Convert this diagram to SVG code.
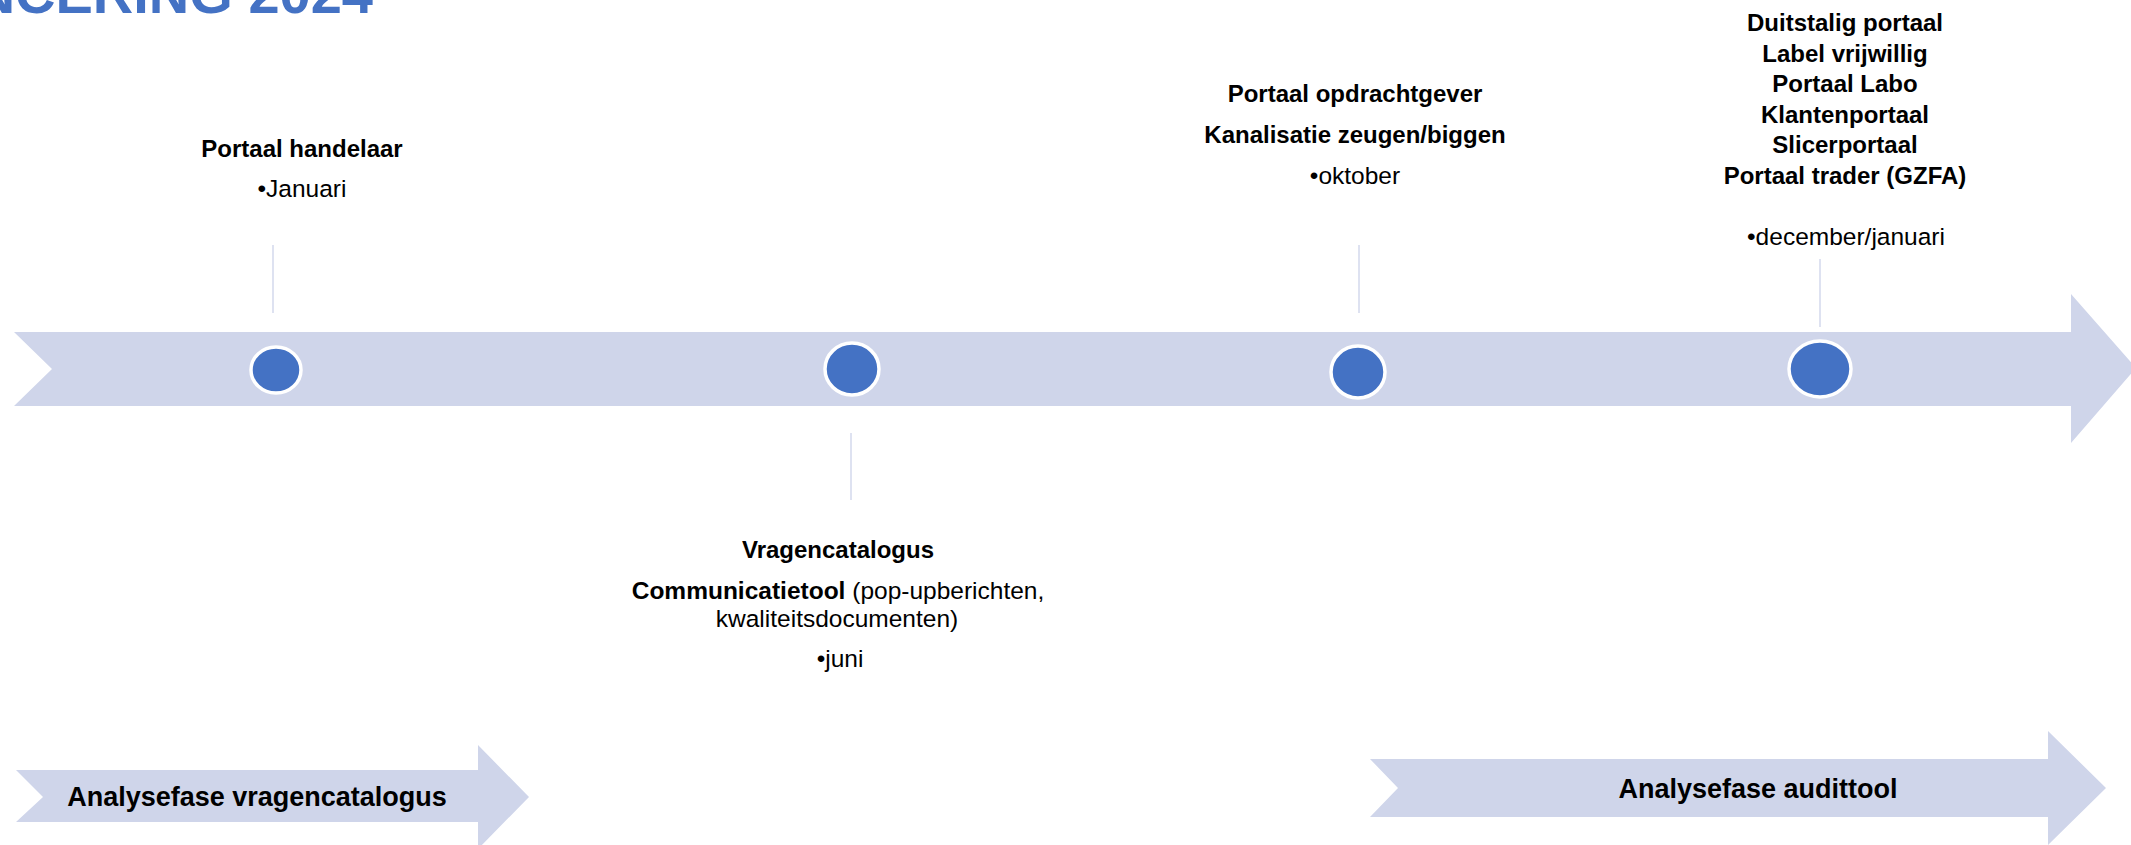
<svg xmlns="http://www.w3.org/2000/svg" width="2131" height="845" viewBox="0 0 2131 845">
<style>
  .arrow { fill: #CFD5EA; }
  .dot { fill: #4472C4; stroke: #FFFFFF; stroke-width: 3.5; }
  .conn { stroke: #D3D9EC; stroke-width: 1.5; fill: none; }
  .t { font-family: "Liberation Sans", Arial, sans-serif; fill: #000000; text-anchor: middle; }
  .b { font-weight: bold; font-size: 24px; }
  .r { font-weight: normal; font-size: 24.5px; }
  .ph { font-weight: bold; font-size: 27px; }
  .title { font-family: "Liberation Sans", Arial, sans-serif; font-weight: bold; font-size: 56px; fill: #4472C4; text-anchor: end; }
</style>
<rect x="0" y="0" width="2131" height="845" fill="#FFFFFF"/>

<g id="title">
  <text class="title" x="373" y="13">NCERING 2024</text>
</g>

<g id="timeline">
  <polygon class="arrow" points="14,332 2071,332 2071,294 2136,368 2071,443 2071,406 14,406 52,369"/>
</g>

<g id="connectors">
  <line class="conn" x1="273" y1="245" x2="273" y2="313"/>
  <line class="conn" x1="851" y1="433" x2="851" y2="500"/>
  <line class="conn" x1="1359" y1="245" x2="1359" y2="313"/>
  <line class="conn" x1="1820" y1="259" x2="1820" y2="327"/>
</g>

<g id="milestone-januari">
  <ellipse class="dot" cx="276" cy="370" rx="25" ry="23"/>
  <text class="t b" x="302" y="157">Portaal handelaar</text>
  <text class="t r" x="302" y="197">•Januari</text>
</g>

<g id="milestone-juni">
  <ellipse class="dot" cx="852" cy="369" rx="27" ry="26"/>
  <text class="t b" x="838" y="558">Vragencatalogus</text>
  <text class="t r" x="838" y="599"><tspan font-weight="bold">Communicatietool</tspan> (pop-upberichten,</text>
  <text class="t r" x="837" y="627">kwaliteitsdocumenten)</text>
  <text class="t r" x="840" y="667">•juni</text>
</g>

<g id="milestone-oktober">
  <ellipse class="dot" cx="1358" cy="372" rx="27" ry="26"/>
  <text class="t b" x="1355" y="102">Portaal opdrachtgever</text>
  <text class="t b" x="1355" y="143">Kanalisatie zeugen/biggen</text>
  <text class="t r" x="1355" y="184">•oktober</text>
</g>

<g id="milestone-december">
  <ellipse class="dot" cx="1820" cy="369" rx="31" ry="28"/>
  <text class="t b" x="1845" y="31">Duitstalig portaal</text>
  <text class="t b" x="1845" y="62">Label vrijwillig</text>
  <text class="t b" x="1845" y="92">Portaal Labo</text>
  <text class="t b" x="1845" y="123">Klantenportaal</text>
  <text class="t b" x="1845" y="153">Slicerportaal</text>
  <text class="t b" x="1845" y="184">Portaal trader (GZFA)</text>
  <text class="t r" x="1846" y="245">•december/januari</text>
</g>

<g id="phase-vragencatalogus">
  <polygon class="arrow" points="16,770 478,770 478,745 529,797 478,849 478,822 16,822 43,797"/>
  <text class="t ph" x="257" y="806">Analysefase vragencatalogus</text>
</g>

<g id="phase-audittool">
  <polygon class="arrow" points="1370,759 2048,759 2048,731 2106,788 2048,845 2048,817 1370,817 1398,788"/>
  <text class="t ph" x="1758" y="798">Analysefase audittool</text>
</g>
</svg>
